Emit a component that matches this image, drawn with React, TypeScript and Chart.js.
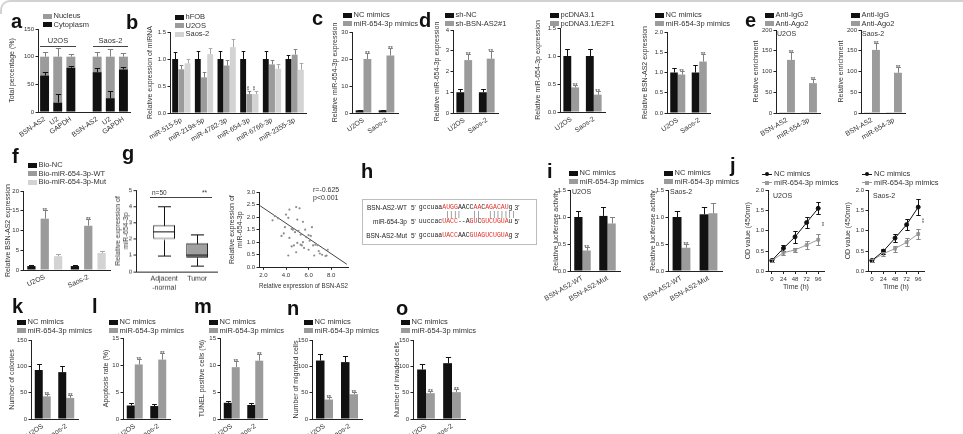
import React, { useEffect, useRef } from 'react';
import { Chart, registerables } from 'chart.js';

Chart.register(...registerables);

const FONT = '"Liberation Sans", Arial, Helvetica, sans-serif';
const MONO = '"Liberation Mono", "DejaVu Sans Mono", monospace';
const BLACK = '#111111';
const GRAY = '#9b9b9b';
const LIGHT = '#d3d3d3';
const TXT = '#333333';
const AXIS = '#222222';
const RED = '#e0302a';

// ===================== DATA =====================
// a
const aCategories = ['BSN-AS2', 'U2', 'GAPDH', '', 'BSN-AS2', 'U2', 'GAPDH'];
const aCytoplasm = [66, 17, 80, null, 72, 25, 77];
const aCytoplasmErr = [7, 16, 4, null, 7, 13, 4];
const aNucleus = [34, 83, 20, null, 28, 75, 23];
const aNucleusErr = [8, 16, 5, null, 8, 14, 6];
// b
const bCategories = ['miR-515-5p', 'miR-219a-5p', 'miR-4782-3p', 'miR-654-3p', 'miR-6766-3p', 'miR-2355-3p'];
const bHFOB = [1, 1, 1, 1, 1, 1];
const bHFOBErr = [0.13, 0.15, 0.15, 0.14, 0.15, 0.08];
const bU2OS = [0.81, 0.66, 0.88, 0.35, 0.9, 1.08];
const bU2OSErr = [0.08, 0.1, 0.1, 0.05, 0.08, 0.1];
const bSaos = [0.92, 1.09, 1.22, 0.35, 0.82, 0.8];
const bSaosErr = [0.08, 0.12, 0.15, 0.05, 0.08, 0.12];
// common groups
const cellLines = ['U2OS', 'Saos-2'];
// c
const cNC = [1, 1];
const cNCErr = [0.2, 0.2];
const cMimics = [20, 21.3];
const cMimicsErr = [2.3, 2.6];
// d
const d1ShNC = [1, 1];
const d1ShNCErr = [0.15, 0.15];
const d1ShBSN = [2.55, 2.62];
const d1ShBSNErr = [0.27, 0.38];
const d2Vector = [1, 1];
const d2VectorErr = [0.12, 0.12];
const d2E2F1 = [0.44, 0.31];
const d2E2F1Err = [0.05, 0.07];
const d3NC = [1, 1];
const d3NCErr = [0.12, 0.18];
const d3Mimics = [0.95, 1.27];
const d3MimicsErr = [0.08, 0.18];
// e
const eTargets = ['BSN-AS2', 'miR-654-3p'];
const e1IgG = [1.5, 1.5];
const e1Ago2 = [128, 72];
const e1Ago2Err = [20, 10];
const e2IgG = [1.5, 1.5];
const e2Ago2 = [152, 97];
const e2Ago2Err = [16, 13];
// f
const fBioNC = [1, 1];
const fBioNCErr = [0.2, 0.2];
const fBioWT = [13, 11.2];
const fBioWTErr = [2.3, 1.6];
const fBioMut = [3.5, 4.3];
const fBioMutErr = [0.5, 0.6];
// g
const gGroups = [['Adjacent', '-normal'], 'Tumor'];
const gAdjacentStats = [1.0, 2.0, 2.5, 2.85, 4.0]; // min, q1, median, q3, max
const gTumorStats = [0.37, 0.86, 1.08, 1.74, 2.3];
const gScatterX = [2.8, 3.0, 3.6, 3.9, 4.0, 4.2, 4.3, 4.3, 4.5, 4.5, 4.6, 4.7, 4.8, 4.9, 5.0, 5.0, 5.1, 5.2, 5.3, 5.4, 5.5, 5.5, 5.6, 5.8, 6.0, 6.0, 6.1, 6.3, 6.4, 6.5, 6.6, 6.8, 7.0, 7.2, 7.5, 7.6, 7.7, 4.2, 3.8, 5.7, 6.2, 4.9, 5.3, 6.9, 3.3];
const gScatterY = [1.87, 2.04, 1.25, 1.6, 2.1, 1.97, 2.3, 1.17, 1.53, 0.83, 1.5, 0.87, 1.4, 2.4, 1.9, 0.97, 1.45, 2.35, 1.3, 0.87, 1.81, 1.0, 0.77, 1.2, 1.28, 0.7, 1.06, 1.6, 0.87, 0.47, 0.9, 0.88, 0.55, 0.5, 0.45, 0.47, 0.7, 0.47, 1.35, 1.5, 1.25, 0.6, 0.9, 0.65, 1.95];
const gFitX = [1.7, 9.4];
const gFitY = [2.45, 0.12];
// i
const iConstructs = ['BSN-AS2-WT', 'BSN-AS2-Mut'];
const i1NC = [1.0, 1.02];
const i1NCErr = [0.12, 0.17];
const i1Mimics = [0.38, 0.88];
const i1MimicsErr = [0.06, 0.12];
const i2NC = [1.0, 1.05];
const i2NCErr = [0.12, 0.14];
const i2Mimics = [0.43, 1.07];
const i2MimicsErr = [0.07, 0.18];
// j
const jTimes = [0, 24, 48, 72, 96];
const j1NC = [0.27, 0.57, 0.85, 1.2, 1.55];
const j1NCErr = [0.04, 0.07, 0.15, 0.13, 0.15];
const j1Mimics = [0.27, 0.46, 0.53, 0.65, 0.78];
const j1MimicsErr = [0.04, 0.05, 0.05, 0.1, 0.13];
const j2NC = [0.27, 0.5, 0.82, 1.15, 1.58];
const j2NCErr = [0.04, 0.06, 0.1, 0.14, 0.2];
const j2Mimics = [0.27, 0.44, 0.56, 0.72, 0.92];
const j2MimicsErr = [0.04, 0.05, 0.07, 0.1, 0.12];
// k - o
const kNC = [93, 89];
const kNCErr = [11, 11];
const kMimics = [43, 40];
const kMimicsErr = [5, 6];
const lNC = [2.5, 2.4];
const lNCErr = [0.4, 0.3];
const lMimics = [10.1, 11.0];
const lMimicsErr = [1.1, 1.2];
const mNC = [3.0, 2.6];
const mNCErr = [0.4, 0.4];
const mMimics = [9.6, 10.8];
const mMimicsErr = [1.2, 1.2];
const nNC = [111, 108];
const nNCErr = [12, 11];
const nMimics = [37, 47];
const nMimicsErr = [4, 5];
const oNC = [94, 106];
const oNCErr = [11, 12];
const oMimics = [49, 51];
const oMimicsErr = [5, 6];

const STARS2 = ['**', '**'];

// ===================== PLUGINS =====================
const errPlugin = {
  id: 'errbars',
  afterDatasetsDraw(chart: any) {
    const ctx = chart.ctx;
    chart.data.datasets.forEach((ds: any, i: number) => {
      const meta = chart.getDatasetMeta(i);
      if (!meta || meta.hidden) return;
      const ys = chart.scales[meta.yAxisID];
      meta.data.forEach((el: any, j: number) => {
        const raw = ds.data[j];
        if (raw === null || raw === undefined) return;
        const e = ds.errors ? ds.errors[j] : null;
        const isBar = typeof el.width === 'number' && !isNaN(el.width);
        const half = isBar ? Math.max(1.8, el.width * 0.3) : 2.2;
        const v = ys.getValueForPixel(el.y);
        let top = el.y;
        ctx.save();
        ctx.strokeStyle = ds.errColor || '#000';
        ctx.lineWidth = 1;
        if (e) {
          const yp = Math.round(ys.getPixelForValue(v + e)) + 0.5;
          const xc = Math.round(el.x) + 0.5;
          ctx.beginPath();
          ctx.moveTo(xc, el.y);
          ctx.lineTo(xc, yp);
          ctx.moveTo(xc - half, yp);
          ctx.lineTo(xc + half, yp);
          if (ds.errBoth) {
            const yn = Math.round(ys.getPixelForValue(v - e)) + 0.5;
            ctx.moveTo(xc, el.y);
            ctx.lineTo(xc, yn);
            ctx.moveTo(xc - half, yn);
            ctx.lineTo(xc + half, yn);
          }
          ctx.stroke();
          top = yp;
        }
        const s = ds.stars ? ds.stars[j] : '';
        if (s) {
          ctx.fillStyle = '#333';
          ctx.font = `6px ${FONT}`;
          if (ds.vStars) {
            ctx.translate(el.x, top - 1);
            ctx.rotate(-Math.PI / 2);
            ctx.textAlign = 'left';
            ctx.textBaseline = 'middle';
            ctx.fillText(s, 0, 0);
          } else {
            ctx.textAlign = 'center';
            ctx.textBaseline = 'alphabetic';
            ctx.fillText(s, el.x, top + 1.5);
          }
        }
        ctx.restore();
      });
    });
  },
};

const sideStarPlugin = {
  id: 'sidestar',
  afterDatasetsDraw(chart: any, _a: any, opts: any) {
    if (!opts || !opts.text) return;
    const m0 = chart.getDatasetMeta(0);
    const m1 = chart.getDatasetMeta(1);
    const p0 = m0.data[m0.data.length - 1];
    const p1 = m1.data[m1.data.length - 1];
    if (!p0 || !p1) return;
    const ctx = chart.ctx;
    ctx.save();
    ctx.fillStyle = '#333';
    ctx.font = `6px ${FONT}`;
    ctx.translate(p0.x + 6, (p0.y + p1.y) / 2);
    ctx.rotate(-Math.PI / 2);
    ctx.textAlign = 'center';
    ctx.textBaseline = 'middle';
    ctx.fillText(opts.text, 0, 0);
    ctx.restore();
  },
};

const boxPlugin = {
  id: 'boxwhisk',
  afterDatasetsDraw(chart: any) {
    const ctx = chart.ctx;
    const ys = chart.scales.y;
    chart.data.datasets.forEach((ds: any, i: number) => {
      if (!ds.stats) return;
      chart.getDatasetMeta(i).data.forEach((el: any, j: number) => {
        const [mn, q1, md, q3, mx] = ds.stats[j];
        const x = Math.round(el.x) + 0.5;
        const hw = el.width / 2;
        const cw = el.width * 0.3;
        const py = (v: number) => Math.round(ys.getPixelForValue(v)) + 0.5;
        ctx.save();
        ctx.strokeStyle = '#111';
        ctx.lineWidth = 1;
        ctx.beginPath();
        ctx.moveTo(el.x - hw, py(md));
        ctx.lineTo(el.x + hw, py(md));
        ctx.moveTo(x, py(q3));
        ctx.lineTo(x, py(mx));
        ctx.moveTo(x - cw, py(mx));
        ctx.lineTo(x + cw, py(mx));
        ctx.moveTo(x, py(q1));
        ctx.lineTo(x, py(mn));
        ctx.moveTo(x - cw, py(mn));
        ctx.lineTo(x + cw, py(mn));
        ctx.stroke();
        ctx.restore();
      });
    });
  },
};

// ===================== LAYOUT HELPERS =====================
type Spec = { key: string; x: number; y: number; w: number; h: number; config: any };

const PADL = 80;
const PADT = 14;
const PADR = 16;
const TITLE_SIZE = 7;
const TLH = TITLE_SIZE * 1.2;
const tickFont = { family: FONT, size: 6 };
const labFont = { family: FONT, size: 7 };
const titleFont = { family: FONT, size: TITLE_SIZE };

function frame(area: number[], yTitleX: number, xTitleY?: number) {
  const [l, t, r, b] = area;
  const W = l - (yTitleX - TLH / 2);
  const XH = xTitleY ? xTitleY - b + TLH / 2 : 60;
  return {
    x: l - PADL,
    y: t - PADT,
    w: PADL + (r - l) + PADR,
    h: PADT + (b - t) + XH,
    W,
    XH,
    padding: { left: PADL - W, top: PADT, right: PADR, bottom: 0 },
  };
}

function yAxis(W: number, title: any, max: number, step: number, dec: number, stacked = false, min = 0) {
  return {
    stacked,
    min,
    max,
    ticks: {
      stepSize: step,
      font: tickFont,
      color: TXT,
      padding: 1.5,
      includeBounds: false,
      callback: (v: any) => (dec ? Number(v).toFixed(dec) : String(v)),
    },
    grid: { drawOnChartArea: false, drawTicks: true, tickLength: 2.5, color: AXIS, lineWidth: 1 },
    border: { display: true, color: AXIS, width: 1 },
    title: { display: true, text: title, font: titleFont, color: TXT, padding: 0 },
    afterFit: (s: any) => {
      s.width = W;
    },
  };
}

function catAxis(XH: number, rot: number, stacked = false) {
  return {
    stacked,
    offset: true,
    grid: { display: false, drawTicks: false },
    border: { display: true, color: AXIS, width: 1 },
    ticks: { font: labFont, color: TXT, minRotation: rot, maxRotation: rot, autoSkip: false, padding: 3 },
    afterFit: (s: any) => {
      s.height = XH;
    },
  };
}

function baseOptions(padding: any, scales: any, plugins: any = {}) {
  return {
    animation: false,
    responsive: false,
    maintainAspectRatio: false,
    devicePixelRatio: 1,
    events: [],
    layout: { padding },
    plugins: { legend: { display: false }, tooltip: { enabled: false }, title: { display: false }, ...plugins },
    scales,
  };
}

function errShade(c: string) {
  if (c === BLACK) return BLACK;
  if (c === GRAY) return '#808080';
  return '#a8a8a8';
}

interface BarSet {
  label: string;
  data: (number | null)[];
  err?: (number | null)[];
  color: string;
  stars?: string[];
  vStars?: boolean;
}

function barPanel(
  key: string,
  area: number[],
  yTitleX: number,
  yTitle: any,
  labels: any[],
  sets: BarSet[],
  o: { max: number; step: number; dec?: number; rot: number; barPct: number; catPct: number; stacked?: boolean }
): Spec {
  const f = frame(area, yTitleX);
  return {
    key,
    x: f.x,
    y: f.y,
    w: f.w,
    h: f.h,
    config: {
      type: 'bar',
      data: {
        labels,
        datasets: sets.map((s) => ({
          label: s.label,
          data: s.data,
          backgroundColor: s.color,
          borderWidth: 0,
          barPercentage: o.barPct,
          categoryPercentage: o.catPct,
          errors: s.err,
          errColor: errShade(s.color),
          stars: s.stars,
          vStars: s.vStars,
        })),
      },
      options: baseOptions(f.padding, {
        x: catAxis(f.XH, o.rot, !!o.stacked),
        y: yAxis(f.W, yTitle, o.max, o.step, o.dec || 0, !!o.stacked),
      }),
      plugins: [errPlugin],
    },
  };
}

function pairPanel(key: string, area: number[], yTitleX: number, yTitle: string, labels: any[], n1: string, d1: number[], e1: number[], n2: string, d2: number[], e2: number[], o: any, stars: string[] | undefined = STARS2): Spec {
  return barPanel(key, area, yTitleX, yTitle, labels, [
    { label: n1, data: d1, err: e1, color: BLACK },
    { label: n2, data: d2, err: e2, color: GRAY, stars },
  ], o);
}

function growthPanel(key: string, area: number[], yTitleX: number, nc: number[], ncErr: number[], mim: number[], mimErr: number[]): Spec {
  const f = frame(area, yTitleX, 287);
  const mk = (vals: number[]) => jTimes.map((t, i) => ({ x: t, y: vals[i] }));
  return {
    key,
    x: f.x,
    y: f.y,
    w: f.w,
    h: f.h,
    config: {
      type: 'line',
      data: {
        datasets: [
          { label: 'NC mimics', data: mk(nc), errors: ncErr, errBoth: true, errColor: BLACK, borderColor: BLACK, backgroundColor: BLACK, borderWidth: 1, pointRadius: 2, pointStyle: 'circle' },
          { label: 'miR-654-3p mimics', data: mk(mim), errors: mimErr, errBoth: true, errColor: '#888', borderColor: GRAY, backgroundColor: GRAY, borderWidth: 1, pointRadius: 2, pointStyle: 'rect' },
        ],
      },
      options: baseOptions(
        f.padding,
        {
          x: {
            type: 'linear',
            min: -8,
            max: 108,
            offset: false,
            grid: { drawOnChartArea: false, drawTicks: true, tickLength: 2.5, color: AXIS },
            border: { display: true, color: AXIS, width: 1 },
            ticks: { stepSize: 24, includeBounds: false, font: tickFont, color: TXT, padding: 1.5, maxRotation: 0 },
            title: { display: true, text: 'Time (h)', font: titleFont, color: TXT, padding: 0 },
            afterFit: (s: any) => {
              s.height = f.XH;
            },
          },
          y: yAxis(f.W, 'OD value (450nm)', 2, 0.5, 1),
        },
        { sidestar: { text: '**' } }
      ),
      plugins: [errPlugin, sideStarPlugin],
    },
  };
}

// ===================== SPECS =====================
const boxFrame = frame([136, 190, 217, 271.7], 118);
const scatFrame = frame([259, 192, 348, 267.5], 232, 286);

const specs: Spec[] = [
  barPanel('a', [38, 29, 130, 112], 12, 'Total percentage (%)', aCategories, [
    { label: 'Cytoplasm', data: aCytoplasm, err: aCytoplasmErr, color: BLACK },
    { label: 'Nucleus', data: aNucleus, err: aNucleusErr, color: GRAY },
  ], { max: 150, step: 50, rot: 35, barPct: 0.68, catPct: 1, stacked: true }),
  barPanel('b', [170, 32, 306, 113], 150, 'Relative expression of miRNA', bCategories, [
    { label: 'hFOB', data: bHFOB, err: bHFOBErr, color: BLACK },
    { label: 'U2OS', data: bU2OS, err: bU2OSErr, color: GRAY, stars: ['', '', '', '**', '', ''], vStars: true },
    { label: 'Saos-2', data: bSaos, err: bSaosErr, color: LIGHT, stars: ['', '', '', '**', '', ''], vStars: true },
  ], { max: 1.5, step: 0.5, dec: 1, rot: 30, barPct: 0.95, catPct: 0.82 }),
  pairPanel('c', [352, 32, 398, 113], 335, 'Relative miR-654-3p expression', cellLines, 'NC mimics', cNC, cNCErr, 'miR-654-3p mimics', cMimics, cMimicsErr, { max: 30, step: 10, rot: 35, barPct: 1, catPct: 0.68 }),
  pairPanel('d1', [453, 30, 498, 113], 437, 'Relative miR-654-3p expression', cellLines, 'sh-NC', d1ShNC, d1ShNCErr, 'sh-BSN-AS2#1', d1ShBSN, d1ShBSNErr, { max: 4, step: 1, rot: 35, barPct: 1, catPct: 0.7 }),
  pairPanel('d2', [560, 28, 605, 112], 538, 'Relative miR-654-3p expression', cellLines, 'pcDNA3.1', d2Vector, d2VectorErr, 'pcDNA3.1/E2F1', d2E2F1, d2E2F1Err, { max: 1.5, step: 0.5, dec: 1, rot: 35, barPct: 1, catPct: 0.7 }),
  pairPanel('d3', [667, 32, 710, 113], 645, 'Relative BSN-AS2 expression', cellLines, 'NC mimics', d3NC, d3NCErr, 'miR-654-3p mimics', d3Mimics, d3MimicsErr, { max: 2, step: 0.5, dec: 1, rot: 35, barPct: 1, catPct: 0.7 }, undefined),
  pairPanel('e1', [776, 30, 820, 113], 756, 'Relative enrichment', eTargets, 'Anti-IgG', e1IgG, [0, 0], 'Anti-Ago2', e1Ago2, e1Ago2Err, { max: 200, step: 50, rot: 30, barPct: 1, catPct: 0.72 }),
  pairPanel('e2', [861, 30, 905, 113], 841, 'Relative enrichment', eTargets, 'Anti-IgG', e2IgG, [0, 0], 'Anti-Ago2', e2Ago2, e2Ago2Err, { max: 200, step: 50, rot: 30, barPct: 1, catPct: 0.72 }),
  barPanel('f', [23, 191, 110, 270], 8, 'Relative BSN-AS2 expression', cellLines, [
    { label: 'Bio-NC', data: fBioNC, err: fBioNCErr, color: BLACK },
    { label: 'Bio-miR-654-3p-WT', data: fBioWT, err: fBioWTErr, color: GRAY, stars: STARS2 },
    { label: 'Bio-miR-654-3p-Mut', data: fBioMut, err: fBioMutErr, color: LIGHT },
  ], { max: 20, step: 5, rot: 25, barPct: 0.62, catPct: 0.92 }),
  {
    key: 'gbox',
    x: boxFrame.x,
    y: boxFrame.y,
    w: boxFrame.w,
    h: boxFrame.h,
    config: {
      type: 'bar',
      data: {
        datasets: [
          {
            label: 'box',
            data: [gAdjacentStats, gTumorStats].map((s, i) => ({ x: i + 1, y: [s[1], s[3]] })),
            stats: [gAdjacentStats, gTumorStats],
            backgroundColor: ['#ffffff', '#a0a0a0'],
            borderColor: '#111',
            borderWidth: 1,
            borderSkipped: false,
            barPercentage: 0.66,
            categoryPercentage: 1,
          },
        ],
      },
      options: baseOptions(boxFrame.padding, {
        x: {
          type: 'linear',
          min: 0.15,
          max: 2.6,
          offset: false,
          grid: { display: false, drawTicks: false },
          border: { display: true, color: AXIS, width: 1 },
          ticks: {
            stepSize: 1,
            includeBounds: false,
            font: labFont,
            color: TXT,
            padding: 3,
            maxRotation: 0,
            callback: (v: any) => (v === 1 ? gGroups[0] : v === 2 ? gGroups[1] : ''),
          },
          afterFit: (s: any) => {
            s.height = boxFrame.XH;
          },
        },
        y: yAxis(boxFrame.W, ['Relative expression of', 'miR-654-3p'], 5, 1, 0),
      }),
      plugins: [boxPlugin],
    },
  },
  {
    key: 'gscatter',
    x: scatFrame.x,
    y: scatFrame.y,
    w: scatFrame.w,
    h: scatFrame.h,
    config: {
      type: 'scatter',
      data: {
        datasets: [
          {
            label: 'samples',
            data: gScatterX.map((x, i) => ({ x, y: gScatterY[i] })),
            pointRadius: 1.1,
            pointBackgroundColor: '#8c8c8c',
            pointBorderColor: '#8c8c8c',
            pointBorderWidth: 0,
          },
          {
            label: 'fit',
            type: 'line',
            data: gFitX.map((x, i) => ({ x, y: gFitY[i] })),
            showLine: true,
            pointRadius: 0,
            borderColor: '#444',
            borderWidth: 1,
          },
        ],
      },
      options: baseOptions(scatFrame.padding, {
        x: {
          type: 'linear',
          min: 1.6,
          max: 9.5,
          grid: { drawOnChartArea: false, drawTicks: true, tickLength: 2.5, color: AXIS },
          border: { display: true, color: AXIS, width: 1 },
          ticks: { stepSize: 2, includeBounds: false, font: tickFont, color: TXT, padding: 1.5, maxRotation: 0, callback: (v: any) => Number(v).toFixed(1) },
          title: { display: true, text: 'Relative expression of BSN-AS2', font: titleFont, color: TXT, padding: 0 },
          afterFit: (s: any) => {
            s.height = scatFrame.XH;
          },
        },
        y: yAxis(scatFrame.W, ['Relative expression of', 'miR-654-3p'], 3, 0.5, 1),
      }),
    },
  },
  pairPanel('i1', [570, 190, 620, 271], 556, 'Relative luciferase activity', iConstructs, 'NC mimics', i1NC, i1NCErr, 'miR-654-3p mimics', i1Mimics, i1MimicsErr, { max: 1.5, step: 0.5, dec: 1, rot: 30, barPct: 1, catPct: 0.66 }, ['**', '']),
  pairPanel('i2', [668, 190, 722, 271], 653, 'Relative luciferase activity', iConstructs, 'NC mimics', i2NC, i2NCErr, 'miR-654-3p mimics', i2Mimics, i2MimicsErr, { max: 1.5, step: 0.5, dec: 1, rot: 30, barPct: 1, catPct: 0.66 }, ['**', '']),
  growthPanel('j1', [768, 190, 824, 271.7], 748, j1NC, j1NCErr, j1Mimics, j1MimicsErr),
  growthPanel('j2', [868, 190, 924, 271.7], 848, j2NC, j2NCErr, j2Mimics, j2MimicsErr),
  pairPanel('k', [31, 340, 78, 419], 12, 'Number of colonies', cellLines, 'NC mimics', kNC, kNCErr, 'miR-654-3p mimics', kMimics, kMimicsErr, { max: 150, step: 50, rot: 35, barPct: 1, catPct: 0.68 }),
  pairPanel('l', [123, 338, 170, 419], 106, 'Apoptosis rate (%)', cellLines, 'NC mimics', lNC, lNCErr, 'miR-654-3p mimics', lMimics, lMimicsErr, { max: 15, step: 5, rot: 35, barPct: 1, catPct: 0.68 }),
  pairPanel('m', [220, 338, 267, 419], 202, 'TUNEL positive cells (%)', cellLines, 'NC mimics', mNC, mNCErr, 'miR-654-3p mimics', mMimics, mMimicsErr, { max: 15, step: 5, rot: 35, barPct: 1, catPct: 0.68 }),
  pairPanel('n', [312, 340, 362, 419], 296, 'Number of migrated cells', cellLines, 'NC mimics', nNC, nNCErr, 'miR-654-3p mimics', nMimics, nMimicsErr, { max: 150, step: 50, rot: 35, barPct: 1, catPct: 0.68 }),
  pairPanel('o', [413, 340, 465, 419], 397, 'Number of invaded cells', cellLines, 'NC mimics', oNC, oNCErr, 'miR-654-3p mimics', oMimics, oMimicsErr, { max: 150, step: 50, rot: 35, barPct: 1, catPct: 0.68 }),
];

// ===================== OVERLAY TEXT =====================
const panelLetters: [string, number, number][] = [
  ['a', 11, 11], ['b', 126, 12], ['c', 312, 8], ['d', 419, 10], ['e', 745, 10],
  ['f', 12, 146], ['g', 122, 143], ['h', 361, 161], ['i', 547, 161], ['j', 730, 155],
  ['k', 12, 296], ['l', 92, 296], ['m', 194, 296], ['n', 287, 298], ['o', 396, 298],
];

type LegItem = [string, string];
const NCM: LegItem[] = [['NC mimics', BLACK], ['miR-654-3p mimics', GRAY]];
const legends: { x: number; y: number; items: LegItem[] }[] = [
  { x: 43, y: 12, items: [['Nucleus', GRAY], ['Cytoplasm', BLACK]] },
  { x: 175, y: 13, items: [['hFOB', BLACK], ['U2OS', GRAY], ['Saos-2', LIGHT]] },
  { x: 343, y: 11, items: NCM },
  { x: 445, y: 11, items: [['sh-NC', BLACK], ['sh-BSN-AS2#1', GRAY]] },
  { x: 550, y: 11, items: [['pcDNA3.1', BLACK], ['pcDNA3.1/E2F1', GRAY]] },
  { x: 655, y: 11, items: NCM },
  { x: 765, y: 11, items: [['Anti-IgG', BLACK], ['Anti-Ago2', GRAY]] },
  { x: 851, y: 11, items: [['Anti-IgG', BLACK], ['Anti-Ago2', GRAY]] },
  { x: 28, y: 161, items: [['Bio-NC', BLACK], ['Bio-miR-654-3p-WT', GRAY], ['Bio-miR-654-3p-Mut', LIGHT]] },
  { x: 569, y: 169, items: NCM },
  { x: 664, y: 169, items: NCM },
  { x: 17, y: 318, items: NCM },
  { x: 109, y: 318, items: NCM },
  { x: 209, y: 318, items: NCM },
  { x: 304, y: 318, items: NCM },
  { x: 401, y: 318, items: NCM },
];
const lineLegends = [{ x: 762, y: 170 }, { x: 862, y: 170 }];

const smallLabels: [string, number, number][] = [
  ['U2OS', 777, 30], ['Saos-2', 862, 30],
  ['U2OS', 572, 188], ['Saos-2', 670, 188],
  ['U2OS', 773, 192], ['Saos-2', 873, 192],
];

const hSeqRows: { name: string; left: string; parts: [string, boolean][]; right: string }[] = [
  { name: 'BSN-AS2-WT', left: "5'", parts: [['gccuaa', false], ['AUGG', true], ['AACC', false], ['AA', true], ['C', false], ['AGACAU', true], ['g', false]], right: "3'" },
  { name: 'miR-654-3p', left: "5'", parts: [['uuccac', false], ['UACC', true], ['--A', false], ['GU', true], ['C', false], ['GUCUGUA', true], ['u', false]], right: "5'" },
  { name: 'BSN-AS2-Mut', left: "5'", parts: [['gccuaa', false], ['UACC', true], ['AAC', false], ['GUA', true], ['GUCUGUA', true], ['g', false]], right: "3'" },
];
const hPipes = '      ||||   ||  |||||||';

// ===================== COMPONENTS =====================
function ChartCanvas({ spec }: { spec: Spec }) {
  const ref = useRef<HTMLCanvasElement>(null);
  useEffect(() => {
    if (!ref.current) return;
    const chart = new Chart(ref.current, spec.config);
    return () => chart.destroy();
  }, [spec]);
  return (
    <canvas
      ref={ref}
      width={spec.w}
      height={spec.h}
      style={{ position: 'absolute', left: spec.x, top: spec.y, width: spec.w, height: spec.h }}
    />
  );
}

const abs = (left: number, top: number): React.CSSProperties => ({ position: 'absolute', left, top, whiteSpace: 'nowrap' });

function Legend({ x, y, items }: { x: number; y: number; items: LegItem[] }) {
  return (
    <>
      {items.map(([label, color], i) => (
        <div key={i} style={{ ...abs(x, y + i * 8.5), font: `7.5px ${FONT}`, color: TXT, lineHeight: '8px', display: 'flex', alignItems: 'center' }}>
          <span style={{ display: 'inline-block', width: 9, height: 5, background: color, marginRight: 1.5 }} />
          {label}
        </div>
      ))}
    </>
  );
}

function LineLegend({ x, y }: { x: number; y: number }) {
  const items: [string, string, boolean][] = [
    ['NC mimics', BLACK, true],
    ['miR-654-3p mimics', GRAY, false],
  ];
  return (
    <>
      {items.map(([label, color, round], i) => (
        <div key={i} style={{ ...abs(x, y + i * 8.5), font: `7.5px ${FONT}`, color: TXT, lineHeight: '8px', display: 'flex', alignItems: 'center' }}>
          <span style={{ position: 'relative', display: 'inline-block', width: 10, height: 5, marginRight: 2 }}>
            <span style={{ position: 'absolute', left: 0, top: 2, width: 10, height: 1, background: color }} />
            <span style={{ position: 'absolute', left: 3, top: 0.5, width: 4, height: 4, background: color, borderRadius: round ? 2 : 0 }} />
          </span>
          {label}
        </div>
      ))}
    </>
  );
}

export default function App() {
  return (
    <div style={{ position: 'absolute', left: 0, top: 0, width: 963, height: 434, overflow: 'hidden', background: '#ffffff', fontFamily: FONT }}>
      <div style={{ position: 'absolute', left: 0, top: 0, width: 963, height: 14, borderTop: '2px solid #d2d2d2', borderLeft: '2px solid #d2d2d2', borderTopLeftRadius: 10, boxSizing: 'border-box' }} />
      {specs.map((s) => (
        <ChartCanvas key={s.key} spec={s} />
      ))}
      {panelLetters.map(([t, x, y]) => (
        <div key={t} style={{ ...abs(x, y), font: `bold 20px ${FONT}`, lineHeight: '20px', color: '#111' }}>
          {t}
        </div>
      ))}
      {legends.map((l, i) => (
        <Legend key={i} x={l.x} y={l.y} items={l.items} />
      ))}
      {lineLegends.map((l, i) => (
        <LineLegend key={i} x={l.x} y={l.y} />
      ))}
      {smallLabels.map(([t, x, y], i) => (
        <div key={i} style={{ ...abs(x, y), font: `7px ${FONT}`, color: TXT, lineHeight: '8px' }}>
          {t}
        </div>
      ))}
      {/* panel a group labels */}
      <div style={{ ...abs(40, 37), width: 36, textAlign: 'center', font: `7.5px ${FONT}`, color: TXT, lineHeight: '8px' }}>U2OS</div>
      <div style={{ position: 'absolute', left: 40, top: 46, width: 36, height: 1, background: '#444' }} />
      <div style={{ ...abs(93, 37), width: 35, textAlign: 'center', font: `7.5px ${FONT}`, color: TXT, lineHeight: '8px' }}>Saos-2</div>
      <div style={{ position: 'absolute', left: 93, top: 46, width: 35, height: 1, background: '#444' }} />
      {/* panel g annotations */}
      <div style={{ ...abs(152, 189), font: `6.5px ${FONT}`, color: TXT, lineHeight: '7px' }}>n=50</div>
      <div style={{ ...abs(202, 189), font: `6.5px ${FONT}`, color: TXT, lineHeight: '7px' }}>**</div>
      <div style={{ position: 'absolute', left: 150, top: 197, width: 62, height: 1, background: '#444' }} />
      <div style={{ ...abs(313, 186), font: `7px ${FONT}`, color: TXT, lineHeight: '7.5px' }}>
        r=-0.625
        <br />
        p&lt;0.001
      </div>
      {/* panel h */}
      <div style={{ position: 'absolute', left: 362, top: 199, width: 175, height: 46, border: '1px solid #bdbdbd', boxSizing: 'border-box' }}>
        {hSeqRows.map((row, ri) => (
          <div key={ri} style={{ position: 'absolute', left: 0, top: [4, 18, 32][ri], font: `6.5px ${FONT}`, color: '#222', lineHeight: '7px', whiteSpace: 'nowrap', display: 'flex' }}>
            <span style={{ display: 'inline-block', width: 44, textAlign: 'right', marginRight: 4 }}>{row.name}</span>
            <span style={{ marginRight: 3 }}>{row.left}</span>
            <span style={{ fontFamily: MONO, fontSize: 6.5 }}>
              {row.parts.map(([t, red], pi) => (
                <span key={pi} style={{ color: red ? RED : '#222' }}>
                  {t}
                </span>
              ))}
            </span>
            <span style={{ marginLeft: 2 }}>{row.right}</span>
          </div>
        ))}
        <div style={{ position: 'absolute', left: 59, top: 11, font: `6.5px ${MONO}`, color: '#555', lineHeight: '7px', whiteSpace: 'pre' }}>{hPipes}</div>
      </div>
    </div>
  );
}
